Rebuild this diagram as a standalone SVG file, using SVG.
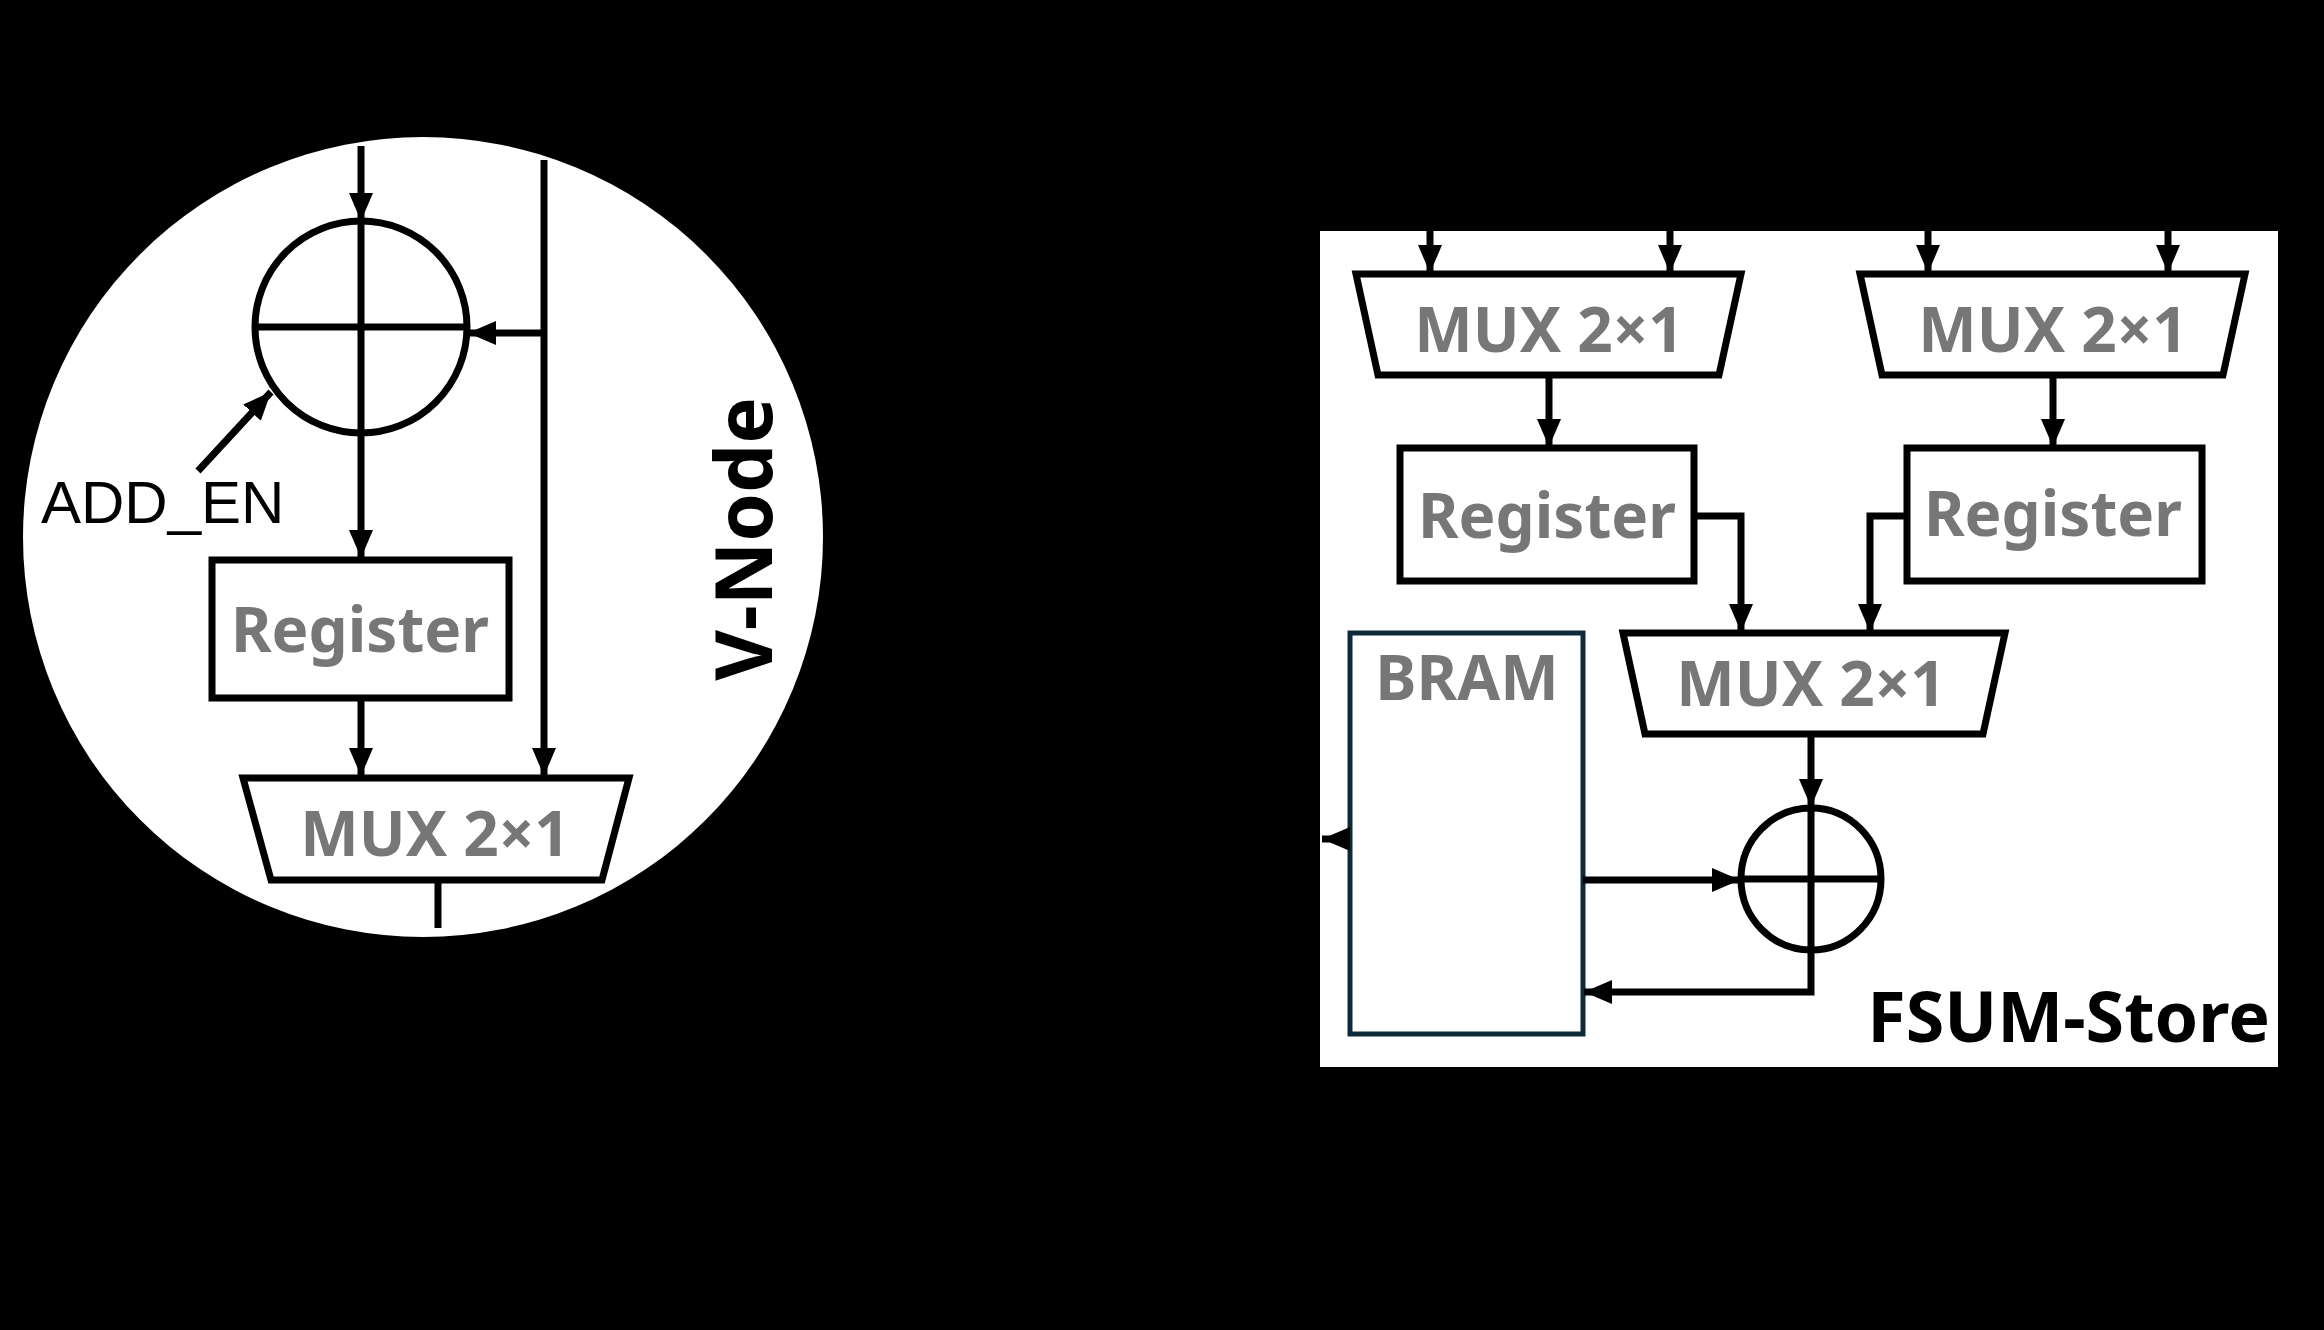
<svg xmlns="http://www.w3.org/2000/svg" width="2324" height="1330" viewBox="0 0 2324 1330">
<style>
.ln{stroke:#000;stroke-width:7;fill:none}
.bx{stroke:#000;stroke-width:7;fill:#fff}
.gt{font-family:"Noto Sans","Liberation Sans",sans-serif;font-weight:bold;fill:#777;text-anchor:middle}
.bt{font-family:"Noto Sans","Liberation Sans",sans-serif;font-weight:bold;fill:#000}
</style>
<defs>
<marker id="ar" markerUnits="userSpaceOnUse" markerWidth="30" markerHeight="30" viewBox="0 0 30 30" refX="28" refY="15" orient="auto">
<path d="M0,3 L28,15 L0,27 Z" fill="#000"/>
</marker>
</defs>
<rect width="2324" height="1330" fill="#000"/>
<g id="vnode">
<circle cx="423" cy="537" r="400" fill="#fff"/>
<text class="bt" font-size="78" text-anchor="middle" transform="translate(772,539) rotate(-90)">V-Node</text>
</g>
<g id="adder1">
<circle cx="361" cy="327" r="106" class="bx"/>
<line x1="255" y1="327" x2="467" y2="327" class="ln"/>
<line x1="361" y1="221" x2="361" y2="433" class="ln"/>
</g>
<g id="reg1">
<rect x="212" y="560" width="297" height="138" class="bx"/>
<text class="gt" x="360" y="652" font-size="62">Register</text>
</g>
<g id="mux1">
<path d="M243,778 L629,778 L602,880 L271,880 Z" class="bx"/>
<text class="gt" x="435" y="856" font-size="62">MUX 2×1</text>
</g>
<g id="addenlabel">
<text x="41" y="523" font-family="'Liberation Sans',Arial,sans-serif" font-size="60" fill="#000">ADD_EN</text>
</g>
<g id="fsum">
<rect x="1320" y="231" width="958" height="836" fill="#fff"/>
<text class="bt" x="2270" y="1042" font-size="70" text-anchor="end">FSUM-Store</text>
</g>
<g id="muxA">
<path d="M1356,274 L1741,274 L1719,375 L1378,375 Z" class="bx"/>
<text class="gt" x="1549" y="352" font-size="62">MUX 2×1</text>
</g>
<g id="muxB">
<path d="M1860,274 L2245,274 L2223,375 L1882,375 Z" class="bx"/>
<text class="gt" x="2053" y="352" font-size="62">MUX 2×1</text>
</g>
<g id="regA">
<rect x="1400" y="448" width="294" height="133" class="bx"/>
<text class="gt" x="1547" y="538" font-size="62">Register</text>
</g>
<g id="regB">
<rect x="1907" y="448" width="295" height="133" class="bx"/>
<text class="gt" x="2053" y="536" font-size="62">Register</text>
</g>
<g id="muxC">
<path d="M1623,633 L2005,633 L1983,734 L1645,734 Z" class="bx"/>
<text class="gt" x="1811" y="706" font-size="62">MUX 2×1</text>
</g>
<g id="bram">
<rect x="1350" y="633" width="233" height="401" fill="#fff" stroke="#0e2a3a" stroke-width="5"/>
<text class="gt" x="1467" y="700" font-size="62">BRAM</text>
</g>
<g id="adder2">
<ellipse cx="1811" cy="879" rx="70" ry="71" class="bx"/>
<line x1="1741" y1="879" x2="1881" y2="879" class="ln"/>
<line x1="1811" y1="808" x2="1811" y2="950" class="ln"/>
</g>
<g id="connectors">
<line x1="361" y1="146" x2="361" y2="221" class="ln" marker-end="url(#ar)"/>
<line x1="544" y1="160" x2="544" y2="776" class="ln" marker-end="url(#ar)"/>
<line x1="544" y1="333" x2="468" y2="333" class="ln" marker-end="url(#ar)"/>
<line x1="198" y1="471" x2="271" y2="392" class="ln" marker-end="url(#ar)"/>
<line x1="361" y1="433" x2="361" y2="558" class="ln" marker-end="url(#ar)"/>
<line x1="361" y1="698" x2="361" y2="776" class="ln" marker-end="url(#ar)"/>
<line x1="438" y1="880" x2="438" y2="928" class="ln"/>
<line x1="1430" y1="231" x2="1430" y2="273" class="ln" marker-end="url(#ar)"/>
<line x1="1670" y1="231" x2="1670" y2="273" class="ln" marker-end="url(#ar)"/>
<line x1="1928" y1="231" x2="1928" y2="273" class="ln" marker-end="url(#ar)"/>
<line x1="2168" y1="231" x2="2168" y2="273" class="ln" marker-end="url(#ar)"/>
<line x1="1549" y1="375" x2="1549" y2="447" class="ln" marker-end="url(#ar)"/>
<line x1="2053" y1="375" x2="2053" y2="447" class="ln" marker-end="url(#ar)"/>
<polyline points="1694,516 1741,516 1741,632" class="ln" marker-end="url(#ar)"/>
<polyline points="1907,516 1870,516 1870,632" class="ln" marker-end="url(#ar)"/>
<line x1="1811" y1="734" x2="1811" y2="807" class="ln" marker-end="url(#ar)"/>
<line x1="1583" y1="880" x2="1740" y2="880" class="ln" marker-end="url(#ar)"/>
<polyline points="1811,950 1811,992 1584,992" class="ln" marker-end="url(#ar)"/>
<line x1="1350" y1="839" x2="1322" y2="839" class="ln" marker-end="url(#ar)"/>
</g>
</svg>
